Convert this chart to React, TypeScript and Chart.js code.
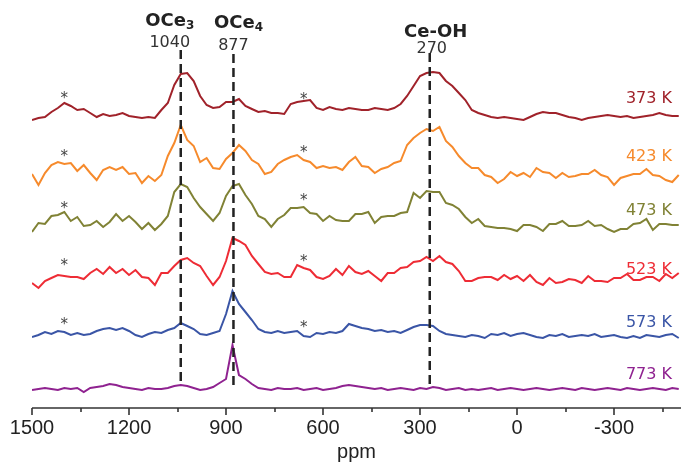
import React, { useEffect, useRef } from "react";
import { Chart, registerables } from "chart.js";

Chart.register(...registerables);

// chemical shift grid (ppm), shared by all spectra
const ppm = [
  1500, 1480, 1460, 1440, 1420, 1400, 1380, 1360, 1340, 1320,
  1300, 1280, 1260, 1240, 1220, 1200, 1180, 1160, 1140, 1120,
  1100, 1080, 1060, 1040, 1020, 1000, 980, 960, 940, 920,
  900, 880, 860, 840, 820, 800, 780, 760, 740, 720,
  700, 680, 660, 640, 620, 600, 580, 560, 540, 520,
  500, 480, 460, 440, 420, 400, 380, 360, 340, 320,
  300, 280, 260, 240, 220, 200, 180, 160, 140, 120,
  100, 80, 60, 40, 20, 0, -20, -40, -60, -80,
  -100, -120, -140, -160, -180, -200, -220, -240, -260, -280,
  -300, -320, -340, -360, -380, -400, -420, -440, -460, -480,
  -500,
];

const s373 = [
  -2, 0, 1, 6, 10, 15, 12, 8, 9, 5,
  1, 4, 2, 3, 5, 2, 1, 0, 1, 0,
  8, 15, 33, 44, 45, 37, 22, 13, 10, 11,
  16, 16, 19, 12, 9, 6, 7, 5, 5, 4,
  14, 16, 17, 18, 10, 8, 11, 9, 8, 10,
  9, 8, 8, 10, 9, 8, 10, 14, 22, 32,
  42, 45, 46, 45, 37, 32, 25, 18, 8, 5,
  3, 1, 0, 1, 0, -1, -2, 1, 4, 6,
  5, 5, 3, 1, 0, -2, 0, 1, 2, 3,
  2, 1, 2, 0, 1, 2, 3, 5, 3, 2,
  2,
];
const s423 = [
  2, -9, 3, 11, 14, 12, 13, 5, 11, 3,
  -4, 6, 9, 6, 9, 2, 3, -7, 0, -5,
  1, 20, 33, 51, 36, 30, 14, 18, 8, 7,
  17, 23, 31, 25, 16, 12, 2, 4, 12, 16,
  19, 21, 16, 14, 8, 10, 8, 9, 6, 14,
  19, 10, 9, 3, 7, 9, 13, 15, 31, 38,
  43, 47, 45, 49, 35, 29, 20, 13, 8, 8,
  1, -1, -7, -3, 4, 0, 3, -1, 8, 4,
  3, -2, 3, -1, 0, 2, 2, 6, 1, -1,
  -9, -2, 0, 2, 2, 7, 1, 0, -4, -6,
  1,
];
const s473 = [
  -6, 3, 2, 10, 11, 14, 5, 9, 0, 1,
  5, -1, 4, 12, 5, 10, 4, -3, 3, -4,
  2, 10, 34, 42, 39, 28, 19, 12, 5, 13,
  30, 40, 42, 31, 22, 10, 7, -1, 7, 11,
  18, 18, 19, 13, 12, 5, 10, 6, 5, 5,
  12, 12, 14, 3, 9, 10, 10, 13, 14, 33,
  28, 35, 34, 34, 23, 21, 17, 9, 3, 7,
  0, -1, -2, -2, -3, -5, 1, 1, -1, -5,
  2, 2, 5, 0, 0, 1, 5, 0, 1, -3,
  -6, -3, -3, 2, 3, 7, -4, 2, 2, 1,
  1,
];
const s523 = [
  -4, -9, -2, 1, 4, 3, 2, 2, 0, 6,
  10, 5, 12, 6, 10, 4, 9, 2, 1, -6,
  6, 6, 13, 19, 21, 16, 13, 3, -6, 2,
  18, 41, 38, 34, 23, 15, 7, 5, 6, 2,
  2, 14, 11, 9, 2, 0, 3, 10, 4, 13,
  7, 5, 8, 3, -2, 6, 6, 11, 12, 17,
  18, 22, 18, 23, 17, 15, 8, -2, -2, 1,
  2, 2, -1, 4, 0, 3, -2, 4, -3, -6,
  1, -4, -3, 0, -1, -4, 3, -2, -2, -3,
  1, 1, 5, -1, -1, 2, 2, -2, 5, 1,
  6,
];
const s573 = [
  -3, -1, 2, 0, 3, 2, -1, 1, -1, 0,
  3, 5, 6, 4, 6, 3, -1, -3, 0, 2,
  1, 4, 6, 11, 8, 5, 0, -1, 1, 3,
  20, 43, 30, 22, 14, 5, 2, 1, 3, 1,
  2, 3, -2, -3, 1, 0, 2, 1, 3, 10,
  8, 6, 5, 3, 4, 2, 3, 1, 4, 7,
  9, 9, 8, 3, 0, -1, -2, -3, -1, -2,
  -4, 0, -1, 1, -2, 0, 1, -1, -3, -4,
  -1, -2, 0, -3, -2, -1, -2, 0, -3, -2,
  -1, -3, -4, -2, -4, -1, -2, -3, -1, 0,
  -4,
];
const s773 = [
  -1, 0, 1, 0, -1, 1, 0, 1, -3, 1,
  2, 3, 5, 4, 2, 1, 0, -1, 1, 0,
  0, 1, 3, 4, 3, 1, -1, 0, 2, 6,
  10, 44, 14, 10, 5, 1, 0, -1, 1, 0,
  0, 1, -1, 0, 1, -1, 0, 1, 3, 4,
  3, 2, 1, 0, 1, -1, 0, 1, 0, -1,
  1, 0, 2, 1, -1, 0, 1, -1, 0, -1,
  0, 1, -1, 0, 1, 0, -1, 0, 1, 0,
  -1, 0, 1, 0, -1, 1, 0, -1, 0, 1,
  0, -1, 1, 0, -1, 0, 1, 0, -1, 1,
  0,
];

const spectra = [s373, s423, s473, s523, s573, s773];
const tempLabels = ["373 K", "423 K", "473 K", "523 K", "573 K", "773 K"];
const colors = ["#a0222a", "#f68a2c", "#808235", "#ee2c35", "#3a55a6", "#8f2290"];
const offsets = [290, 232, 182, 129, 74, 19];
const labelHeights = [309, 251, 197, 138, 85, 33];

// spinning side-band markers (*)
const starPpm = [1400, 660];
const starLeftHeights = [23, 23, 21, 17, 13];
const starRightHeights = [22, 27, 29, 21, 10];

// assigned signals
const markerPpm = [1040, 877, 270];
const markerNames = ["OCe", "OCe", "Ce-OH"];
const markerSubs = ["3", "4", ""];
const markerValues = ["1040", "877", "270"];
const markerTop = [358, 354, 355];
const markerBottom = [26, 21, 23];

const tickValues = [1500, 1350, 1200, 1050, 900, 750, 600, 450, 300, 150, 0, -150, -300, -450];

const annotPlugin = {
  id: "annot",
  afterDatasetsDraw(chart: any) {
    const { ctx, chartArea } = chart;
    const x = chart.scales.x;
    const y = chart.scales.y;
    ctx.save();

    // axis line and ticks
    ctx.strokeStyle = "#333";
    ctx.lineWidth = 1.6;
    ctx.beginPath();
    ctx.moveTo(chartArea.left, chartArea.bottom);
    ctx.lineTo(chartArea.right, chartArea.bottom);
    ctx.stroke();
    tickValues.forEach((v) => {
      const px = Math.round(x.getPixelForValue(v));
      const len = v % 300 === 0 ? 7 : 4;
      ctx.beginPath();
      ctx.moveTo(px, chartArea.bottom);
      ctx.lineTo(px, chartArea.bottom + len);
      ctx.stroke();
    });

    // dashed marker lines
    ctx.strokeStyle = "#222";
    ctx.lineWidth = 2.5;
    ctx.setLineDash([9, 5]);
    markerPpm.forEach((m, i) => {
      const px = x.getPixelForValue(m);
      ctx.beginPath();
      ctx.moveTo(px, y.getPixelForValue(markerTop[i]));
      ctx.lineTo(px, y.getPixelForValue(markerBottom[i]));
      ctx.stroke();
    });
    ctx.setLineDash([]);

    // marker labels
    const nameDx = [-11, 5, 6];
    const nameBase = [26, 28, 37];
    const valDx = [-11, 0, 2];
    const valBase = [47, 50, 53];
    markerPpm.forEach((m, i) => {
      const px = x.getPixelForValue(m);
      ctx.fillStyle = "#222";
      ctx.textBaseline = "alphabetic";
      ctx.font = "bold 18px 'DejaVu Sans'";
      const w1 = ctx.measureText(markerNames[i]).width;
      ctx.font = "bold 12px 'DejaVu Sans'";
      const w2 = markerSubs[i] ? ctx.measureText(markerSubs[i]).width : 0;
      const start = px + nameDx[i] - (w1 + w2) / 2;
      ctx.textAlign = "left";
      ctx.font = "bold 18px 'DejaVu Sans'";
      ctx.fillText(markerNames[i], start, nameBase[i]);
      if (markerSubs[i]) {
        ctx.font = "bold 12px 'DejaVu Sans'";
        ctx.fillText(markerSubs[i], start + w1, nameBase[i] + 3);
      }
      ctx.font = "16px 'DejaVu Sans'";
      ctx.fillStyle = "#333";
      ctx.textAlign = "center";
      ctx.fillText(markerValues[i], px + valDx[i], valBase[i]);
    });

    // asterisks
    ctx.fillStyle = "#444";
    ctx.font = "15px 'DejaVu Sans'";
    ctx.textAlign = "center";
    ctx.textBaseline = "middle";
    starLeftHeights.forEach((h, i) => {
      ctx.fillText("*", x.getPixelForValue(starPpm[0]), y.getPixelForValue(offsets[i] + h) + 4);
      ctx.fillText("*", x.getPixelForValue(starPpm[1]), y.getPixelForValue(offsets[i] + starRightHeights[i]) + 4);
    });

    // temperature labels
    ctx.font = "16px 'DejaVu Sans'";
    ctx.textAlign = "right";
    ctx.textBaseline = "middle";
    tempLabels.forEach((t, i) => {
      ctx.fillStyle = colors[i];
      ctx.fillText(t, chartArea.right - 9, y.getPixelForValue(labelHeights[i]));
    });

    ctx.restore();
  },
};

export default function App() {
  const ref = useRef<HTMLCanvasElement | null>(null);
  useEffect(() => {
    if (!ref.current) return;
    const datasets = spectra.map((s, i) => ({
      label: tempLabels[i],
      data: ppm.map((p, j) => ({ x: p, y: s[j] + offsets[i] })),
      borderColor: colors[i],
      borderWidth: 2,
      pointRadius: 0,
      tension: 0,
      fill: false,
    }));
    const chart = new Chart(ref.current, {
      type: "line",
      data: { datasets },
      options: {
        animation: false,
        responsive: false,
        maintainAspectRatio: false,
        devicePixelRatio: 1,
        layout: { padding: { left: 32, right: 0, top: 0, bottom: 0 } },
        plugins: { legend: { display: false }, tooltip: { enabled: false } },
        scales: {
          x: {
            type: "linear",
            reverse: true,
            min: -507,
            max: 1500,
            afterBuildTicks: (scale: any) => {
              scale.ticks = tickValues.map((v) => ({ value: v }));
            },
            afterFit: (scale: any) => {
              scale.height = 56;
            },
            ticks: {
              autoSkip: false,
              maxRotation: 0,
              padding: 0,
              color: "#222",
              font: { family: "'Liberation Sans', Arial, sans-serif", size: 20 },
              callback: (v: any) => (Number(v) % 300 === 0 ? String(v) : ""),
            },
            grid: { display: false },
            border: { display: false },
            title: {
              display: true,
              text: "ppm",
              color: "#222",
              font: { family: "'Liberation Sans', Arial, sans-serif", size: 20 },
              padding: { top: 2, bottom: 0 },
            },
          },
          y: { display: false, min: 0, max: 408 },
        },
      },
      plugins: [annotPlugin],
    });
    return () => chart.destroy();
  }, []);
  return (
    <div style={{ position: "fixed", left: 0, top: 0, width: 681, height: 464, background: "#fff" }}>
      <canvas ref={ref} width={681} height={464} style={{ display: "block" }} />
    </div>
  );
}
